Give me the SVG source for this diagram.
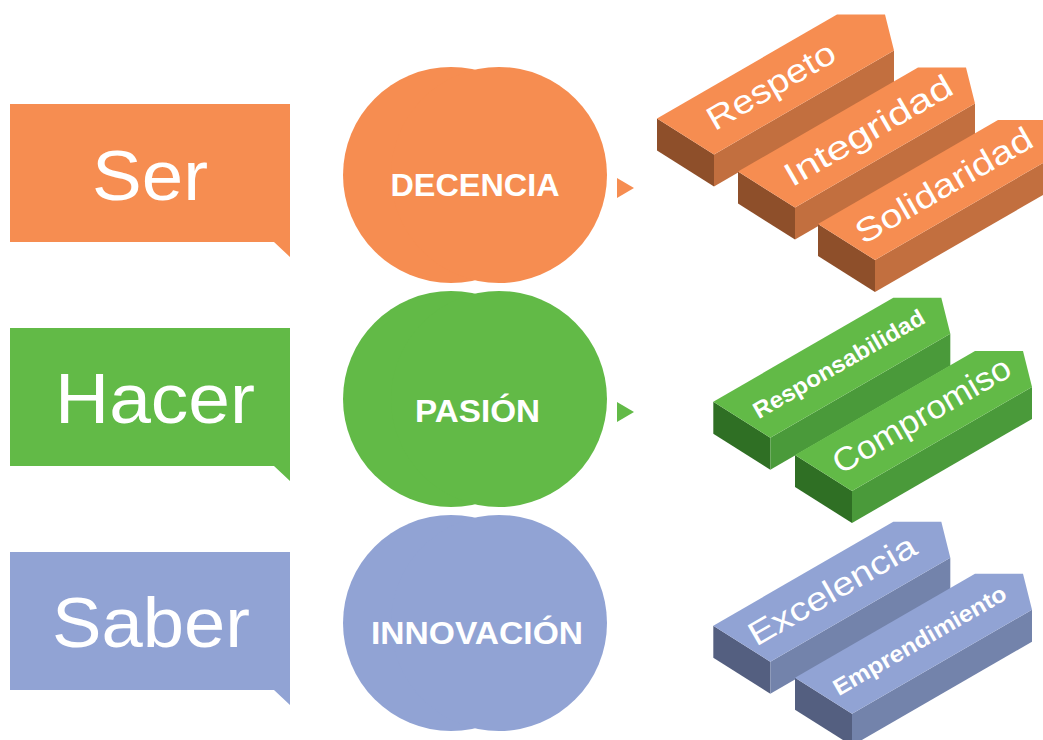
<svg xmlns="http://www.w3.org/2000/svg" width="1043" height="740" viewBox="0 0 1043 740">
<style>
.o{fill:#F68D51}.oR{fill:#C26F3F}.oL{fill:#8E4F2A}
.g{fill:#62BA47}.gR{fill:#4A9A3A}.gL{fill:#2F6F24}
.b{fill:#91A3D4}.bR{fill:#7383AB}.bL{fill:#545F80}
.big{font-family:"Liberation Sans",Arial,sans-serif;font-size:70px;fill:#fff;text-anchor:middle}
.mid{font-family:"Liberation Sans",Arial,sans-serif;font-size:32px;font-weight:bold;fill:#fff;text-anchor:middle}
.blk{font-family:"Liberation Sans",Arial,sans-serif;font-size:33px;fill:#fff}
.blkb{font-family:"Liberation Sans",Arial,sans-serif;font-size:23px;font-weight:bold;fill:#fff}
</style>
<defs>
<polygon id="top" points="0,0 57,36 237,-68 228,-104 180,-104"/>
<polygon id="left" points="0,0 57,36 57,68 0,32"/>
<polygon id="right" points="57,36 237,-68 237,-36 57,68"/>
</defs>
<rect width="1043" height="740" fill="#fff"/>

<g id="ser">
<path class="o" d="M10,104 H290 V257 L274,242 H10 Z"/>
<text class="big" x="150" y="200" textLength="116" lengthAdjust="spacingAndGlyphs">Ser</text>
</g>
<g id="hacer">
<path class="g" d="M10,328 H290 V481 L274,466 H10 Z"/>
<text class="big" x="155" y="423" textLength="200" lengthAdjust="spacingAndGlyphs">Hacer</text>
</g>
<g id="saber">
<path class="b" d="M10,552 H290 V705 L274,690 H10 Z"/>
<text class="big" x="151" y="647" textLength="198" lengthAdjust="spacingAndGlyphs">Saber</text>
</g>

<g id="decencia">
<circle class="o" cx="451" cy="175" r="108"/><circle class="o" cx="499" cy="175" r="108"/>
<text class="mid" x="475" y="196" textLength="169" lengthAdjust="spacingAndGlyphs">DECENCIA</text>
</g>
<g id="pasion">
<circle class="g" cx="451" cy="399" r="108"/><circle class="g" cx="499" cy="399" r="108"/>
<text class="mid" x="477.5" y="421.5" textLength="125" lengthAdjust="spacingAndGlyphs">PASIÓN</text>
</g>
<g id="innovacion">
<circle class="b" cx="451" cy="623" r="108"/><circle class="b" cx="499" cy="623" r="108"/>
<text class="mid" x="477" y="644" textLength="212" lengthAdjust="spacingAndGlyphs">INNOVACIÓN</text>
</g>

<g id="connectors">
<polygon class="o" points="617,178 634,188 617,198"/>
<polygon class="g" points="617,402 634,412 617,422"/>
</g>

<g id="respeto" transform="translate(657,118.5)">
<use href="#left" class="oL"/><use href="#right" class="oR"/><use href="#top" class="o"/>
<text class="blk" transform="translate(28.5,18) rotate(-30)" x="28" y="10" textLength="143" lengthAdjust="spacingAndGlyphs">Respeto</text>
</g>
<g id="integridad" transform="translate(738,171.5)">
<use href="#left" class="oL"/><use href="#right" class="oR"/><use href="#top" class="o"/>
<text class="blk" transform="translate(28.5,18) rotate(-30)" x="23" y="11" textLength="189" lengthAdjust="spacingAndGlyphs">Integridad</text>
</g>
<g id="solidaridad" transform="translate(818,224)">
<use href="#left" class="oL"/><use href="#right" class="oR"/><use href="#top" class="o"/>
<text class="blk" transform="translate(28.5,18) rotate(-30)" x="13" y="11" textLength="199" lengthAdjust="spacingAndGlyphs">Solidaridad</text>
</g>

<g id="responsabilidad" transform="translate(713.3,401.7)">
<use href="#left" class="gL"/><use href="#right" class="gR"/><use href="#top" class="g"/>
<text class="blkb" transform="translate(28.5,18) rotate(-30)" x="15" y="8" textLength="194" lengthAdjust="spacingAndGlyphs">Responsabilidad</text>
</g>
<g id="compromiso" transform="translate(795,455)">
<use href="#left" class="gL"/><use href="#right" class="gR"/><use href="#top" class="g"/>
<text class="blk" transform="translate(28.5,18) rotate(-30)" x="14" y="10" textLength="200" lengthAdjust="spacingAndGlyphs">Compromiso</text>
</g>

<g id="excelencia" transform="translate(713.3,625.7)">
<use href="#left" class="bL"/><use href="#right" class="bR"/><use href="#top" class="b"/>
<text class="blk" transform="translate(28.5,18) rotate(-30)" x="11" y="10" textLength="188" lengthAdjust="spacingAndGlyphs">Excelencia</text>
</g>
<g id="emprendimiento" transform="translate(795,677.7)">
<use href="#left" class="bL"/><use href="#right" class="bR"/><use href="#top" class="b"/>
<text class="blkb" transform="translate(28.5,18) rotate(-30)" x="13" y="8" textLength="196" lengthAdjust="spacingAndGlyphs">Emprendimiento</text>
</g>
</svg>
